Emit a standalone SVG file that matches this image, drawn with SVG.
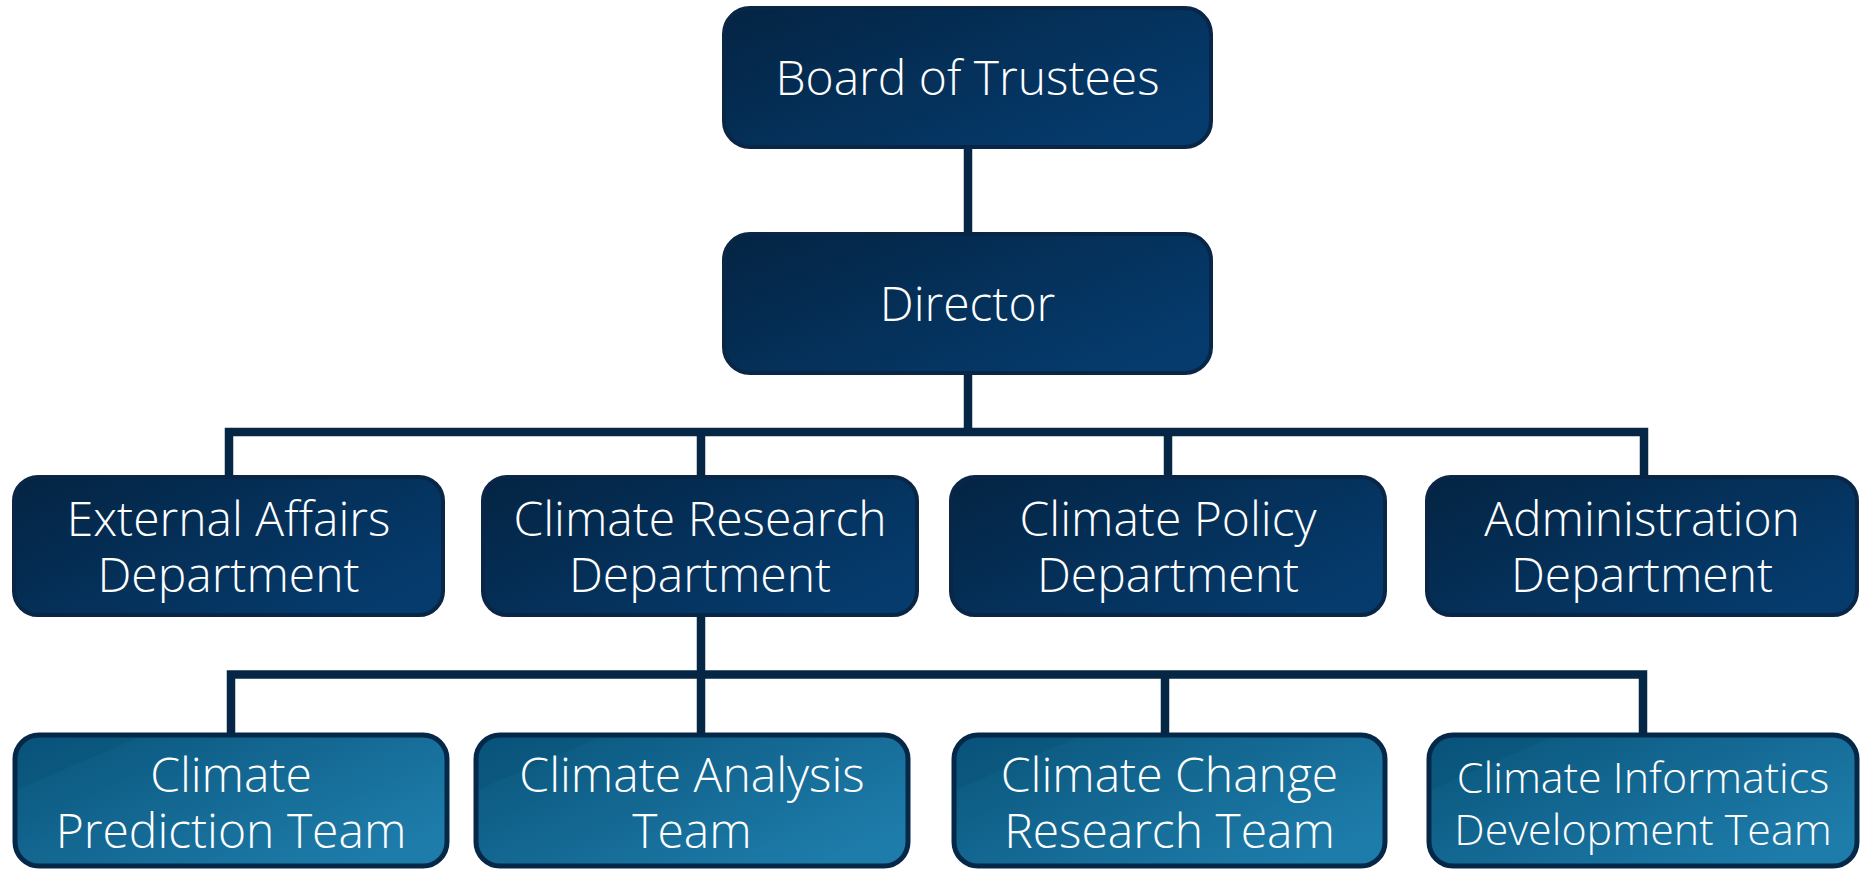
<svg xmlns="http://www.w3.org/2000/svg" width="1860" height="871" viewBox="0 0 1860 871">
  <defs>
    <linearGradient id="gDark" x1="0" y1="0" x2="1" y2="0.7">
      <stop offset="0" stop-color="#042443"/>
      <stop offset="1" stop-color="#053b6d"/>
    </linearGradient>
    <linearGradient id="gTeam" x1="0" y1="0" x2="1" y2="0.7">
      <stop offset="0" stop-color="#08527a"/>
      <stop offset="0.2" stop-color="#0b587f"/>
      <stop offset="0.2" stop-color="#0d5c84"/>
      <stop offset="1" stop-color="#1e7caa"/>
    </linearGradient>
    <style>
      .top { fill: url(#gDark); stroke: #0a2646; stroke-width: 4; }
      .team { fill: url(#gTeam); stroke: #062848; stroke-width: 5; }
      .lbl { font-family: "Open Sans", "Noto Sans", "DejaVu Sans", sans-serif; font-weight: 300; font-size: 48px; fill: #ffffff; text-anchor: middle; }
      .sm { font-size: 43px; }
      .conn { stroke: #062646; stroke-width: 8.5; fill: none; stroke-linecap: butt; }
    </style>
  </defs>

  <g id="connectors">
    <line class="conn" x1="968" y1="146" x2="968" y2="235"/>
    <line class="conn" x1="968" y1="372" x2="968" y2="432"/>
    <polyline class="conn" points="229,478 229,432 1644,432 1644,478"/>
    <line class="conn" x1="701" y1="432" x2="701" y2="478"/>
    <line class="conn" x1="1168" y1="432" x2="1168" y2="478"/>
    <line class="conn" x1="701" y1="614" x2="701" y2="734"/>
    <polyline class="conn" points="231,734 231,674.5 1643,674.5 1643,734"/>
    <line class="conn" x1="1165" y1="674.5" x2="1165" y2="734"/>
  </g>

  <g id="board">
    <rect class="top" x="724" y="8" width="487" height="139" rx="26"/>
    <text class="lbl" x="967.5" y="95">Board of Trustees</text>
  </g>

  <g id="director">
    <rect class="top" x="724" y="234" width="487" height="139" rx="26"/>
    <text class="lbl" x="967.5" y="321">Director</text>
  </g>

  <g id="external-affairs">
    <rect class="top" x="14" y="477" width="429" height="138" rx="24"/>
    <text class="lbl" x="228.5" y="536">External Affairs</text>
    <text class="lbl" x="228.5" y="592">Department</text>
  </g>

  <g id="climate-research">
    <rect class="top" x="483" y="477" width="434" height="138" rx="24"/>
    <text class="lbl" x="700" y="536">Climate Research</text>
    <text class="lbl" x="700" y="592">Department</text>
  </g>

  <g id="climate-policy">
    <rect class="top" x="951" y="477" width="434" height="138" rx="24"/>
    <text class="lbl" x="1168" y="536">Climate Policy</text>
    <text class="lbl" x="1168" y="592">Department</text>
  </g>

  <g id="administration">
    <rect class="top" x="1427" y="477" width="430" height="138" rx="24"/>
    <text class="lbl" x="1642" y="536">Administration</text>
    <text class="lbl" x="1642" y="592">Department</text>
  </g>

  <g id="climate-prediction">
    <rect class="team" x="15" y="735" width="432" height="131" rx="24"/>
    <text class="lbl" x="231" y="792">Climate</text>
    <text class="lbl" x="231" y="848">Prediction Team</text>
  </g>

  <g id="climate-analysis">
    <rect class="team" x="476" y="735" width="432" height="131" rx="24"/>
    <text class="lbl" x="692" y="792">Climate Analysis</text>
    <text class="lbl" x="692" y="848">Team</text>
  </g>

  <g id="climate-change">
    <rect class="team" x="954" y="735" width="431" height="131" rx="24"/>
    <text class="lbl" x="1169.5" y="792">Climate Change</text>
    <text class="lbl" x="1169.5" y="848">Research Team</text>
  </g>

  <g id="climate-informatics">
    <rect class="team" x="1429" y="735" width="428" height="131" rx="24"/>
    <text class="lbl sm" x="1643" y="793">Climate Informatics</text>
    <text class="lbl sm" x="1643" y="845">Development Team</text>
  </g>
</svg>
